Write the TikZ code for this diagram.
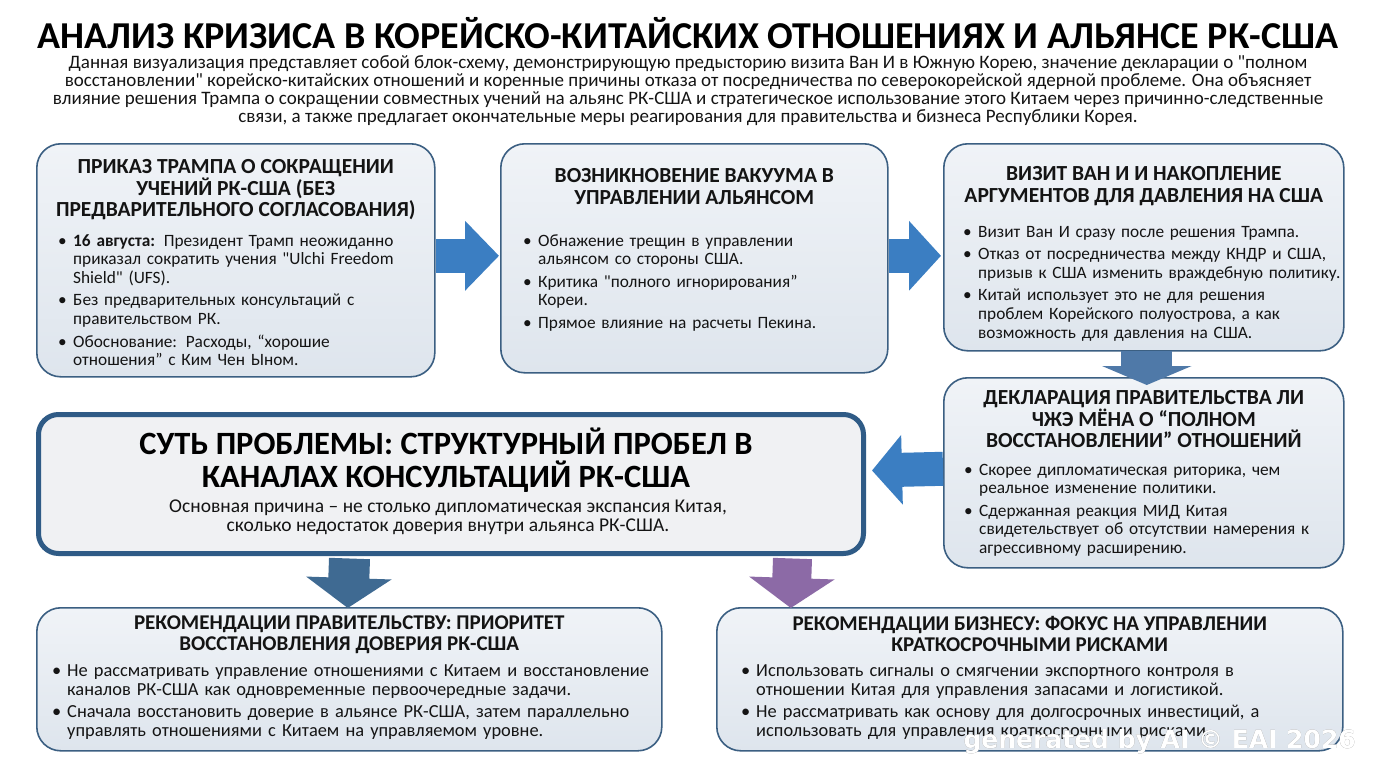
\documentclass[tikz,border=0pt]{standalone}
\usepackage{fontspec}
\setmainfont{Carlito}[Ligatures=TeXOff]
\newfontfamily\wmfont{DejaVu Sans}
\usepackage[outline]{contour}
\contourlength{1.1pt}
\usetikzlibrary{arrows.meta,calc}
\definecolor{boxborder}{HTML}{3B5F82}
\definecolor{boxtop}{HTML}{F0F3F7}
\definecolor{boxbot}{HTML}{DEE5ED}
\definecolor{corefill}{HTML}{F0F1F3}
\definecolor{coreborder}{HTML}{2F5B86}
\definecolor{arrblue}{HTML}{3B7EC2}
\definecolor{arrsteel}{HTML}{4F79A8}
\definecolor{arrdark}{HTML}{3F6A92}
\definecolor{arrpurple}{HTML}{8C6AA6}
\definecolor{ink}{HTML}{141414}
\newcommand{\bi}[1]{\par\noindent\hangindent=15pt\hangafter=1\makebox[15pt][l]{•}#1\par}
\newcommand{\bsep}{\vspace{3.5pt}}
\newcommand{\nl}{\hfil\break}
\begin{document}
\begin{tikzpicture}[x=1pt,y=-1pt,
  box/.style={draw=boxborder, line width=1.6pt, rounded corners=24pt,
    top color=boxtop, bottom color=boxbot, anchor=north west, inner sep=0pt},
  corebox/.style={draw=coreborder, line width=5pt, rounded corners=20pt,
    fill=corefill, anchor=north west, inner sep=0pt},
  head/.style={font=\fontsize{21.5}{21.5}\selectfont\bfseries, align=center,
    inner sep=0pt, text=ink, anchor=north},
  bul/.style={font=\fontsize{17.3}{18.8}\selectfont, align=left, inner sep=0pt,
    text=ink, anchor=north west},
  blk/.style n args={4}{line width=#2pt, draw=#1,
    -{Triangle[length=#4pt,width=#3pt]}}
]
\fill[white] (0,0) rectangle (1376,768);
\useasboundingbox (0,0) rectangle (1376,768);

% title and subtitle
\node[font=\fontsize{38}{40}\selectfont\bfseries, text=black, inner sep=0pt] (title) at (688,33.5)
  {АНАЛИЗ КРИЗИСА В КОРЕЙСКО-КИТАЙСКИХ ОТНОШЕНИЯХ И АЛЬЯНСЕ РК-США};
\node[font=\fontsize{19}{18}\selectfont, align=center, inner sep=0pt, anchor=north, text=ink] (sub) at (688,55.5)
  {Данная визуализация представляет собой блок-схему, демонстрирующую предысторию визита Ван И в Южную Корею, значение декларации о "полном\\
   восстановлении" корейско-китайских отношений и коренные причины отказа от посредничества по северокорейской ядерной проблеме. Она объясняет\\
   влияние решения Трампа о сокращении совместных учений на альянс РК-США и стратегическое использование этого Китаем через причинно-следственные\\
   связи, а также предлагает окончательные меры реагирования для правительства и бизнеса Республики Корея.};

% boxes
\node[box, minimum width=398pt, minimum height=233pt] (b1) at (36,143) {};
\node[box, minimum width=387pt, minimum height=229pt] (b2) at (500,143) {};
\node[box, minimum width=400pt, minimum height=207pt] (b3) at (943,143) {};
\node[box, minimum width=400pt, minimum height=190pt] (b4) at (943,377) {};
\node[corebox, minimum width=825pt, minimum height=139pt] (b5) at (36,412) {};
\node[box, minimum width=625pt, minimum height=143pt] (b6) at (36,607) {};
\node[box, minimum width=626pt, minimum height=143pt] (b7) at (716,607) {};

% arrows
\draw[blk={arrblue}{34}{68}{34}] ($(b1.east)+(0,-4.5)$) -- ($(b2.west)+(-1,-2.5)$);
\draw[blk={arrblue}{34}{68}{32}] ($(b2.east)+(0,-2.5)$) -- ($(b3.west)+(-2,8.5)$);
\draw[blk={arrsteel}{51}{89}{19}] ($(b3.south)+(3,-1)$) -- ($(b4.north)+(3,8)$);
\draw[blk={arrblue}{34}{68}{30}] ($(b4.west)+(0,-4)$) -- ($(b5.east)+(6,-13.5)$);
\draw[blk={arrdark}{41}{84}{30}] ($(b5.south)+(-101.5,2.5)$) -- ($(b6.north)+(-1.5,1)$);
\draw[blk={arrpurple}{39}{84}{30}] ($(b5.south)+(341.5,2.5)$) -- ($(b7.north)+(-239,1)$);

% box 1
\node[head] (h1) at ($(b1.north)+(0,16.5)$)
  {ПРИКАЗ ТРАМПА О СОКРАЩЕНИИ\\УЧЕНИЙ РК-США (БЕЗ\\ПРЕДВАРИТЕЛЬНОГО СОГЛАСОВАНИЯ)};
\node[bul, text width=380pt] (l1) at ($(b1.north west)+(22,84)$)
  {\bi{\textbf{16 августа:} Президент Трамп неожиданно\nl приказал сократить учения "Ulchi Freedom\nl Shield" (UFS).}\bsep
   \bi{Без предварительных консультаций с\nl правительством РК.}\bsep
   \bi{Обоснование: Расходы, “хорошие\nl отношения” с Ким Чен Ыном.}};

% box 2
\node[head] (h2) at ($(b2.north)+(0,25.5)$)
  {ВОЗНИКНОВЕНИЕ ВАКУУМА В\\УПРАВЛЕНИИ АЛЬЯНСОМ};
\node[bul, text width=370pt] (l2) at ($(b2.north west)+(23,84)$)
  {\bi{Обнажение трещин в управлении\nl альянсом со стороны США.}\bsep
   \bi{Критика "полного игнорирования”\nl Кореи.}\bsep
   \bi{Прямое влияние на расчеты Пекина.}};

% box 3
\node[head] (h3) at ($(b3.north)+(0,23.5)$)
  {ВИЗИТ ВАН И И НАКОПЛЕНИЕ\\АРГУМЕНТОВ ДЛЯ ДАВЛЕНИЯ НА США};
\node[bul, text width=390pt] (l3) at ($(b3.north west)+(20,75)$)
  {\bi{Визит Ван И сразу после решения Трампа.}\bsep
   \bi{Отказ от посредничества между КНДР и США,\nl призыв к США изменить враждебную политику.}\bsep
   \bi{Китай использует это не для решения\nl проблем Корейского полуострова, а как\nl возможность для давления на США.}};

% box 4
\node[head] (h4) at ($(b4.north)+(0,13.5)$)
  {ДЕКЛАРАЦИЯ ПРАВИТЕЛЬСТВА ЛИ\\ЧЖЭ МЁНА О “ПОЛНОМ\\ВОССТАНОВЛЕНИИ” ОТНОШЕНИЙ};
\node[bul, text width=390pt] (l4) at ($(b4.north west)+(21,79)$)
  {\bi{Скорее дипломатическая риторика, чем\nl реальное изменение политики.}\bsep
   \bi{Сдержанная реакция МИД Китая\nl свидетельствует об отсутствии намерения к\nl агрессивному расширению.}};

% box 5 (core)
\node[font=\fontsize{32.5}{33}\selectfont\bfseries, align=center, inner sep=0pt, text=black, anchor=north] (h5)
  at ($(b5.north)+(-5,16)$)
  {СУТЬ ПРОБЛЕМЫ: СТРУКТУРНЫЙ ПРОБЕЛ В\\КАНАЛАХ КОНСУЛЬТАЦИЙ РК-США};
\node[font=\fontsize{19.5}{19}\selectfont, align=center, inner sep=0pt, text=ink, anchor=north] (s5)
  at ($(b5.north)+(-3,88)$)
  {Основная причина – не столько дипломатическая экспансия Китая,\\сколько недостаток доверия внутри альянса РК-США.};

% box 6
\node[head, font=\fontsize{21}{21}\selectfont\bfseries] (h6) at ($(b6.north)+(0,9)$)
  {РЕКОМЕНДАЦИИ ПРАВИТЕЛЬСТВУ: ПРИОРИТЕТ\\ВОССТАНОВЛЕНИЯ ДОВЕРИЯ РК-США};
\node[bul, text width=605pt, font=\fontsize{18.4}{19}\selectfont] (l6) at ($(b6.north west)+(16,50)$)
  {\bi{Не рассматривать управление отношениями с Китаем и восстановление\nl каналов РК-США как одновременные первоочередные задачи.}\bsep
   \bi{Сначала восстановить доверие в альянсе РК-США, затем параллельно\nl управлять отношениями с Китаем на управляемом уровне.}};

% box 7
\node[head, font=\fontsize{21}{21}\selectfont\bfseries] (h7) at ($(b7.north)+(0,9)$)
  {РЕКОМЕНДАЦИИ БИЗНЕСУ: ФОКУС НА УПРАВЛЕНИИ\\КРАТКОСРОЧНЫМИ РИСКАМИ};
\node[bul, text width=600pt, font=\fontsize{18.4}{19}\selectfont] (l7) at ($(b7.north west)+(25,50)$)
  {\bi{Использовать сигналы о смягчении экспортного контроля в\nl отношении Китая для управления запасами и логистикой.}\bsep
   \bi{Не рассматривать как основу для долгосрочных инвестиций, а\nl использовать для управления краткосрочными рисками.}};

% watermark
\node[font=\wmfont\fontsize{25}{26}\selectfont\bfseries, inner sep=0pt, anchor=east] (wm) at (1356,742)
  {\contour{gray}{\textcolor{white}{generated by AI © EAI 2026}}};
\end{tikzpicture}
\end{document}
